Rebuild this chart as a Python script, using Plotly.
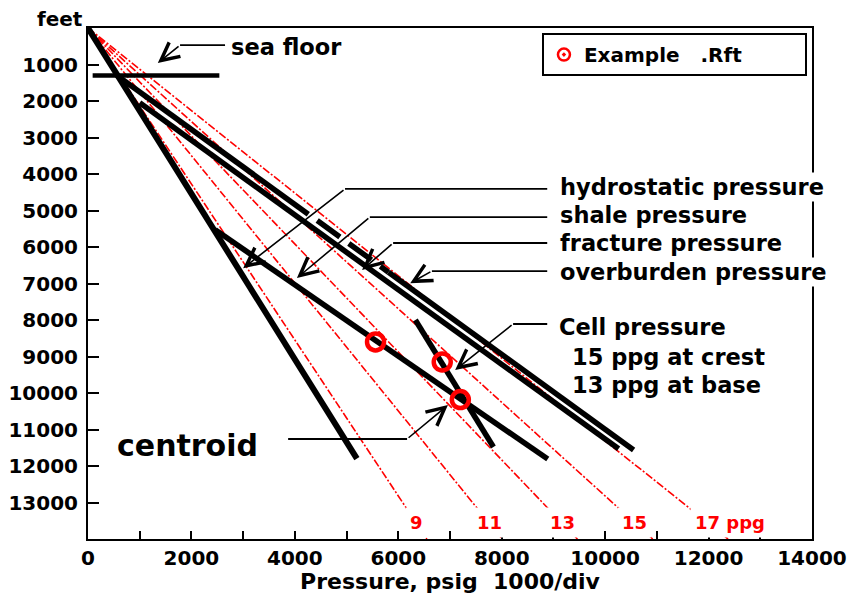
import plotly.graph_objects as go

FONT = "DejaVu Sans"

# Mud-weight reference gradients (ppg), drawn from surface to total depth
ppg_values = [9, 11, 13, 15, 17]
psi_per_ft_per_ppg = 0.052
depth_limit = 14000
ppg_label_depth = 13560

# Pressure profiles: pressure (psig) against depth (ft)
hydrostatic_psi = [0, 5200]
hydrostatic_ft = [0, 11800]

overburden_psi = [560, 4260, 5810, 10550]
overburden_ft = [1300, 5100, 6690, 11560]

fracture_psi = [1000, 10260]
fracture_ft = [2050, 11530]

shale_psi = [2460, 8890]
shale_ft = [5530, 11810]

cell_psi = [6330, 7840]
cell_ft = [8000, 11480]

seafloor_psi = [90, 2540]
seafloor_ft = [1300, 1300]

# RFT pressure measurements
rft_psi = [5560, 6850, 7200]
rft_ft = [8600, 9150, 10180]

# Axis ticks
x_ticks = list(range(0, 14001, 1000))
x_labels = [str(v) if v % 2000 == 0 else "" for v in x_ticks]
y_ticks = list(range(1000, 13001, 1000))
y_labels = [str(v) for v in y_ticks]

# Callout layout: label position, leader start, elbow and arrow tip (data units)
callouts = [
    dict(text="sea floor", tx=2720, ty=520, sx=2650, sy=470, ex=1780, ey=470, px=1350, py=960),
    dict(text="hydrostatic pressure", tx=9090, ty=4360, sx=8880, sy=4410, ex=4970, ey=4410, px=3000, py=6580),
    dict(text="shale pressure", tx=9090, ty=5120, sx=8880, sy=5180, ex=5450, ey=5180, px=4040, py=6850),
    dict(text="fracture pressure", tx=9090, ty=5890, sx=8880, sy=5890, ex=5900, ey=5890, px=5300, py=6630),
    dict(text="overburden pressure", tx=9090, ty=6690, sx=8880, sy=6660, ex=6650, ey=6660, px=6230, py=6990),
    dict(text="Cell pressure", tx=9070, ty=8190, sx=8880, sy=8110, ex=8220, ey=8110, px=7100, py=9370),
]
cell_notes = [("15 ppg at crest", 9320, 9015), ("13 ppg at base", 9320, 9780)]
centroid = dict(text="centroid", tx=520, ty=11430, sx=3870, sy=11260, ex=6170, ey=11260, px=6960, py=10330)

fig = go.Figure()

# Red dash-dot gradient lines
for ppg in ppg_values:
    fig.add_trace(go.Scatter(
        x=[0, psi_per_ft_per_ppg * ppg * depth_limit], y=[0, depth_limit],
        mode="lines", line=dict(color="red", width=1.6, dash="8px,2px,2px,2px"),
        showlegend=False, hoverinfo="skip"))

BLACK = dict(color="black", width=5.5)

def black_line(xs, ys, **extra):
    line = dict(BLACK)
    line.update(extra)
    fig.add_trace(go.Scatter(x=xs, y=ys, mode="lines", line=line,
                             showlegend=False, hoverinfo="skip"))

black_line(hydrostatic_psi, hydrostatic_ft, width=6)
black_line(overburden_psi[:2], overburden_ft[:2])
black_line(overburden_psi[1:3], overburden_ft[1:3], dash="0px,11px,28px,0px")
black_line(overburden_psi[2:], overburden_ft[2:])
black_line(fracture_psi, fracture_ft)
black_line(shale_psi, shale_ft)
black_line(cell_psi, cell_ft)
black_line(seafloor_psi, seafloor_ft, width=4.5)

# Leader lines
for c in callouts + [centroid]:
    fig.add_trace(go.Scatter(x=[c["sx"], c["ex"]], y=[c["sy"], c["ey"]], mode="lines",
                             line=dict(color="black", width=1.8),
                             showlegend=False, hoverinfo="skip"))

# RFT points
fig.add_trace(go.Scatter(
    x=rft_psi, y=rft_ft, mode="markers",
    marker=dict(symbol="circle-open", size=17, color="red", line=dict(color="red", width=4.5)),
    showlegend=False, hoverinfo="skip"))
fig.add_trace(go.Scatter(
    x=[None], y=[None], mode="markers", name="Example\u00a0\u00a0\u00a0.Rft",
    marker=dict(symbol="circle-open-dot", size=12, color="red", line=dict(color="red", width=2.5))))

annotations = []
for c in callouts + [centroid]:
    annotations.append(dict(
        x=c["px"], y=c["py"], ax=c["ex"], ay=c["ey"], xref="x", yref="y", axref="x", ayref="y",
        text="", showarrow=True, arrowhead=5, arrowsize=2.2, arrowwidth=1.6, arrowcolor="black"))
for c in callouts:
    annotations.append(dict(
        x=c["tx"], y=c["ty"], xref="x", yref="y", text=c["text"], showarrow=False,
        xanchor="left", yanchor="middle", bgcolor="white",
        font=dict(family=FONT, size=22.5, weight="bold", color="black")))
for txt, tx, ty in cell_notes:
    annotations.append(dict(
        x=tx, y=ty, xref="x", yref="y", text=txt, showarrow=False,
        xanchor="left", yanchor="middle",
        font=dict(family=FONT, size=22.5, weight="bold", color="black")))
annotations.append(dict(
    x=centroid["tx"], y=centroid["ty"], xref="x", yref="y", text=centroid["text"], showarrow=False,
    xanchor="left", yanchor="middle",
    font=dict(family=FONT, size=30, weight="bold", color="black")))

# ppg labels sitting on their gradient lines
for ppg in ppg_values:
    label = f"{ppg} ppg" if ppg == ppg_values[-1] else str(ppg)
    shift = 22 if ppg == ppg_values[-1] else 0
    annotations.append(dict(
        x=psi_per_ft_per_ppg * ppg * ppg_label_depth, y=ppg_label_depth, xref="x", yref="y",
        text=label, showarrow=False, xanchor="center", yanchor="middle", xshift=shift,
        bgcolor="white", borderpad=4,
        font=dict(family=FONT, size=18, weight="bold", color="red")))

annotations.append(dict(
    x=-0.0387, y=1.018, xref="paper", yref="paper", text="feet", showarrow=False,
    xanchor="center", yanchor="middle",
    font=dict(family=FONT, size=20, weight="bold", color="black")))

tick_font = dict(family=FONT, size=20, weight="bold", color="black")

fig.update_layout(
    width=855, height=594,
    margin=dict(l=88, r=43, t=28, b=55, autoexpand=False),
    paper_bgcolor="white", plot_bgcolor="white",
    annotations=annotations,
    showlegend=True,
    legend=dict(x=0.627, y=0.99, xanchor="left", yanchor="top",
                bordercolor="black", borderwidth=2, bgcolor="white",
                orientation="h", entrywidth=216, valign="middle",
                font=dict(family=FONT, size=20, weight="bold", color="black")),
    xaxis=dict(range=[0, 14000], tickvals=x_ticks, ticktext=x_labels,
               ticks="inside", ticklen=8, tickwidth=1.5, tickcolor="black",
               showline=True, linewidth=2, linecolor="black", mirror=True, automargin=False,
               showgrid=False, zeroline=False, tickfont=tick_font, ticklabelstandoff=0,
               title=dict(text="Pressure, psig\u00a0\u00a01000/div", standoff=0,
                          font=dict(family=FONT, size=22, weight="bold", color="black"))),
    yaxis=dict(range=[14000, 0], tickvals=y_ticks, ticktext=y_labels,
               ticks="inside", ticklen=11, tickwidth=1.5, tickcolor="black",
               showline=True, linewidth=2, linecolor="black", mirror=True, automargin=False,
               showgrid=False, zeroline=False, tickfont=tick_font, ticklabelstandoff=4),
)

fig.write_html("out.html")
